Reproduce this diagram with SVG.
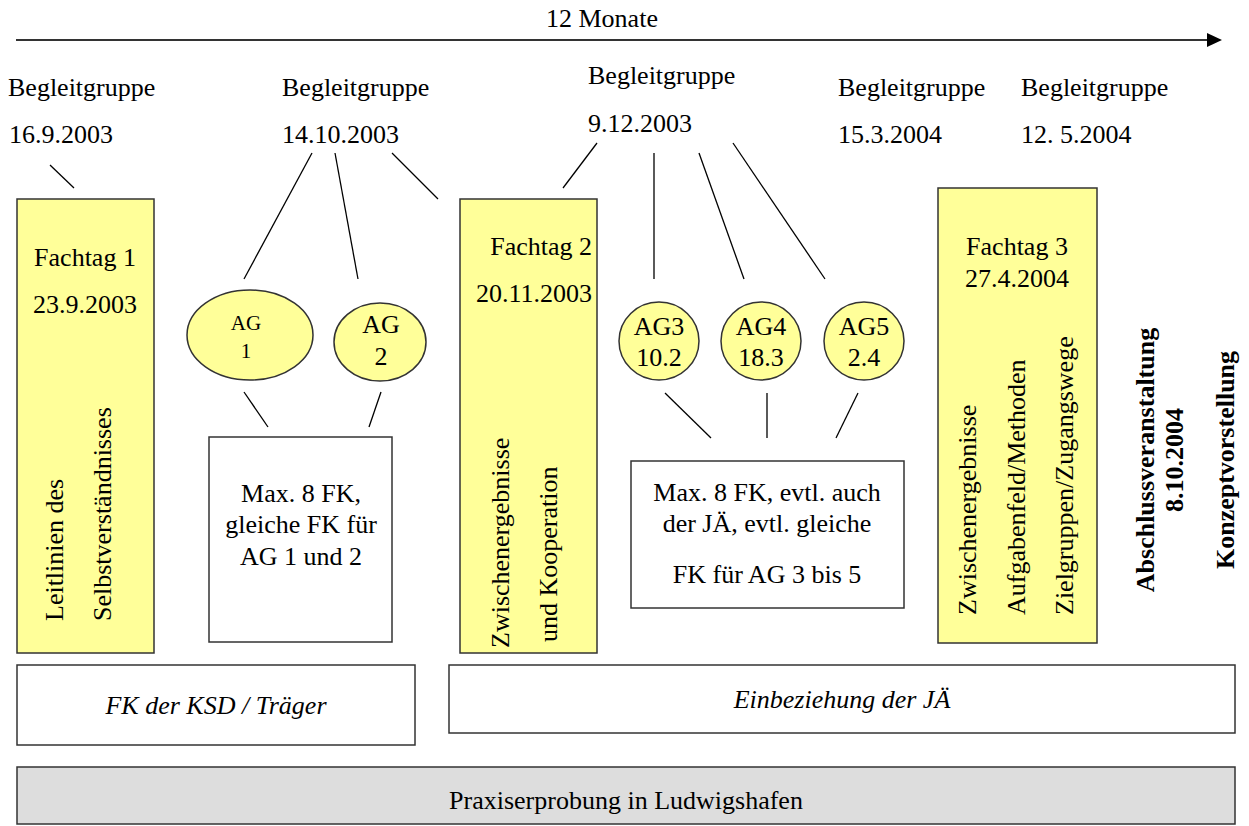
<svg xmlns="http://www.w3.org/2000/svg" width="1249" height="826" viewBox="0 0 1249 826">
<style>
text{font-family:"Liberation Serif","Times New Roman",serif;font-size:26px;fill:#000}
.c{text-anchor:middle}
.b{font-weight:bold}
.i{font-style:italic}
.y{fill:#FFFF99;stroke:#333;stroke-width:1.5}
.w{fill:#fff;stroke:#333;stroke-width:1.5}
.g{fill:#DDDDDD;stroke:#333;stroke-width:1.5}
.ln line{stroke:#000;stroke-width:1.3}
</style>
<g id="timeline">
<line x1="16" y1="40" x2="1208" y2="40" stroke="#333" stroke-width="1.8"/>
<path d="M1207,33 L1222,40 L1207,47 z" fill="#000"/>
<text x="546" y="27">12 Monate</text>
</g>
<g id="bg1"><text x="8" y="96">Begleitgruppe</text><text x="9" y="143">16.9.2003</text></g>
<g id="bg2"><text x="282" y="96">Begleitgruppe</text><text x="282" y="143">14.10.2003</text></g>
<g id="bg3"><text x="588" y="84">Begleitgruppe</text><text x="588" y="132">9.12.2003</text></g>
<g id="bg4"><text x="838" y="96">Begleitgruppe</text><text x="838" y="143">15.3.2004</text></g>
<g id="bg5"><text x="1021" y="96">Begleitgruppe</text><text x="1021" y="143">12. 5.2004</text></g>
<g id="connectors" class="ln">
<line x1="50" y1="165" x2="74" y2="188"/>
<line x1="312" y1="153" x2="244" y2="279"/>
<line x1="335" y1="153" x2="358" y2="279"/>
<line x1="392" y1="153" x2="438" y2="199"/>
<line x1="597" y1="143" x2="563" y2="188"/>
<line x1="654" y1="153" x2="654" y2="279"/>
<line x1="699" y1="153" x2="744" y2="279"/>
<line x1="733" y1="143" x2="825" y2="279"/>
<line x1="244" y1="392" x2="268" y2="427"/>
<line x1="381" y1="392" x2="369" y2="427"/>
<line x1="665" y1="393" x2="711" y2="438"/>
<line x1="767" y1="393" x2="767" y2="438"/>
<line x1="858" y1="393" x2="836" y2="438"/>
</g>
<g id="fachtag1">
<rect class="y" x="17" y="199" width="137" height="454"/>
<text class="c" x="85" y="266">Fachtag 1</text>
<text class="c" x="85" y="313">23.9.2003</text>
<text transform="translate(63,621) rotate(-90)">Leitlinien des</text>
<text transform="translate(111,621) rotate(-90)">Selbstverständnisses</text>
</g>
<g id="ag1">
<ellipse class="y" cx="250" cy="335" rx="63" ry="45"/>
<text class="c" x="246" y="330" style="font-size:21px">AG</text>
<text class="c" x="246" y="358" style="font-size:21px">1</text>
</g>
<g id="ag2">
<ellipse class="y" cx="380" cy="342" rx="46" ry="39"/>
<text class="c" x="381" y="333">AG</text>
<text class="c" x="381" y="365">2</text>
</g>
<g id="box1">
<rect class="w" x="209" y="437" width="183" height="205"/>
<text class="c" x="301" y="502">Max. 8 FK,</text>
<text class="c" x="301" y="533">gleiche FK für</text>
<text class="c" x="301" y="565">AG 1 und 2</text>
</g>
<g id="fachtag2">
<rect class="y" x="460" y="199" width="137" height="454"/>
<text x="592" y="255" style="text-anchor:end">Fachtag 2</text>
<text x="592" y="302" style="text-anchor:end">20.11.2003</text>
<text transform="translate(509,648) rotate(-90)">Zwischenergebnisse</text>
<text transform="translate(557,642) rotate(-90)">und Kooperation</text>
</g>
<g id="ag3">
<ellipse class="y" cx="659" cy="341" rx="40" ry="39"/>
<text class="c" x="659" y="335">AG3</text>
<text class="c" x="659" y="366">10.2</text>
</g>
<g id="ag4">
<ellipse class="y" cx="761" cy="341" rx="40" ry="39"/>
<text class="c" x="761" y="335">AG4</text>
<text class="c" x="761" y="366">18.3</text>
</g>
<g id="ag5">
<ellipse class="y" cx="864" cy="341" rx="40" ry="39"/>
<text class="c" x="864" y="335">AG5</text>
<text class="c" x="864" y="366">2.4</text>
</g>
<g id="box2">
<rect class="w" x="631" y="461" width="273" height="147"/>
<text class="c" x="767" y="501">Max. 8 FK, evtl. auch</text>
<text class="c" x="767" y="532">der JÄ, evtl. gleiche</text>
<text class="c" x="767" y="583">FK für AG 3 bis 5</text>
</g>
<g id="fachtag3">
<rect class="y" x="938" y="188" width="159" height="455"/>
<text class="c" x="1017" y="255">Fachtag 3</text>
<text class="c" x="1017" y="287">27.4.2004</text>
<text transform="translate(976,615) rotate(-90)">Zwischenergebnisse</text>
<text transform="translate(1025,615) rotate(-90)">Aufgabenfeld/Methoden</text>
<text transform="translate(1073,615) rotate(-90)">Zielgruppen/Zugangswege</text>
</g>
<g id="abschluss">
<text class="c b" transform="translate(1154,460) rotate(-90)">Abschlussveranstaltung</text>
<text class="c b" transform="translate(1183,460) rotate(-90)">8.10.2004</text>
<text class="c b" transform="translate(1234,460) rotate(-90)">Konzeptvorstellung</text>
</g>
<g id="fk">
<rect class="w" x="17" y="665" width="398" height="80"/>
<text class="c i" x="216" y="714">FK der KSD / Träger</text>
</g>
<g id="jae">
<rect class="w" x="449" y="665" width="786" height="68"/>
<text class="c i" x="842" y="708">Einbeziehung der JÄ</text>
</g>
<g id="praxis">
<rect class="g" x="17" y="767" width="1218" height="57"/>
<text class="c" x="626" y="809">Praxiserprobung in Ludwigshafen</text>
</g>
</svg>
